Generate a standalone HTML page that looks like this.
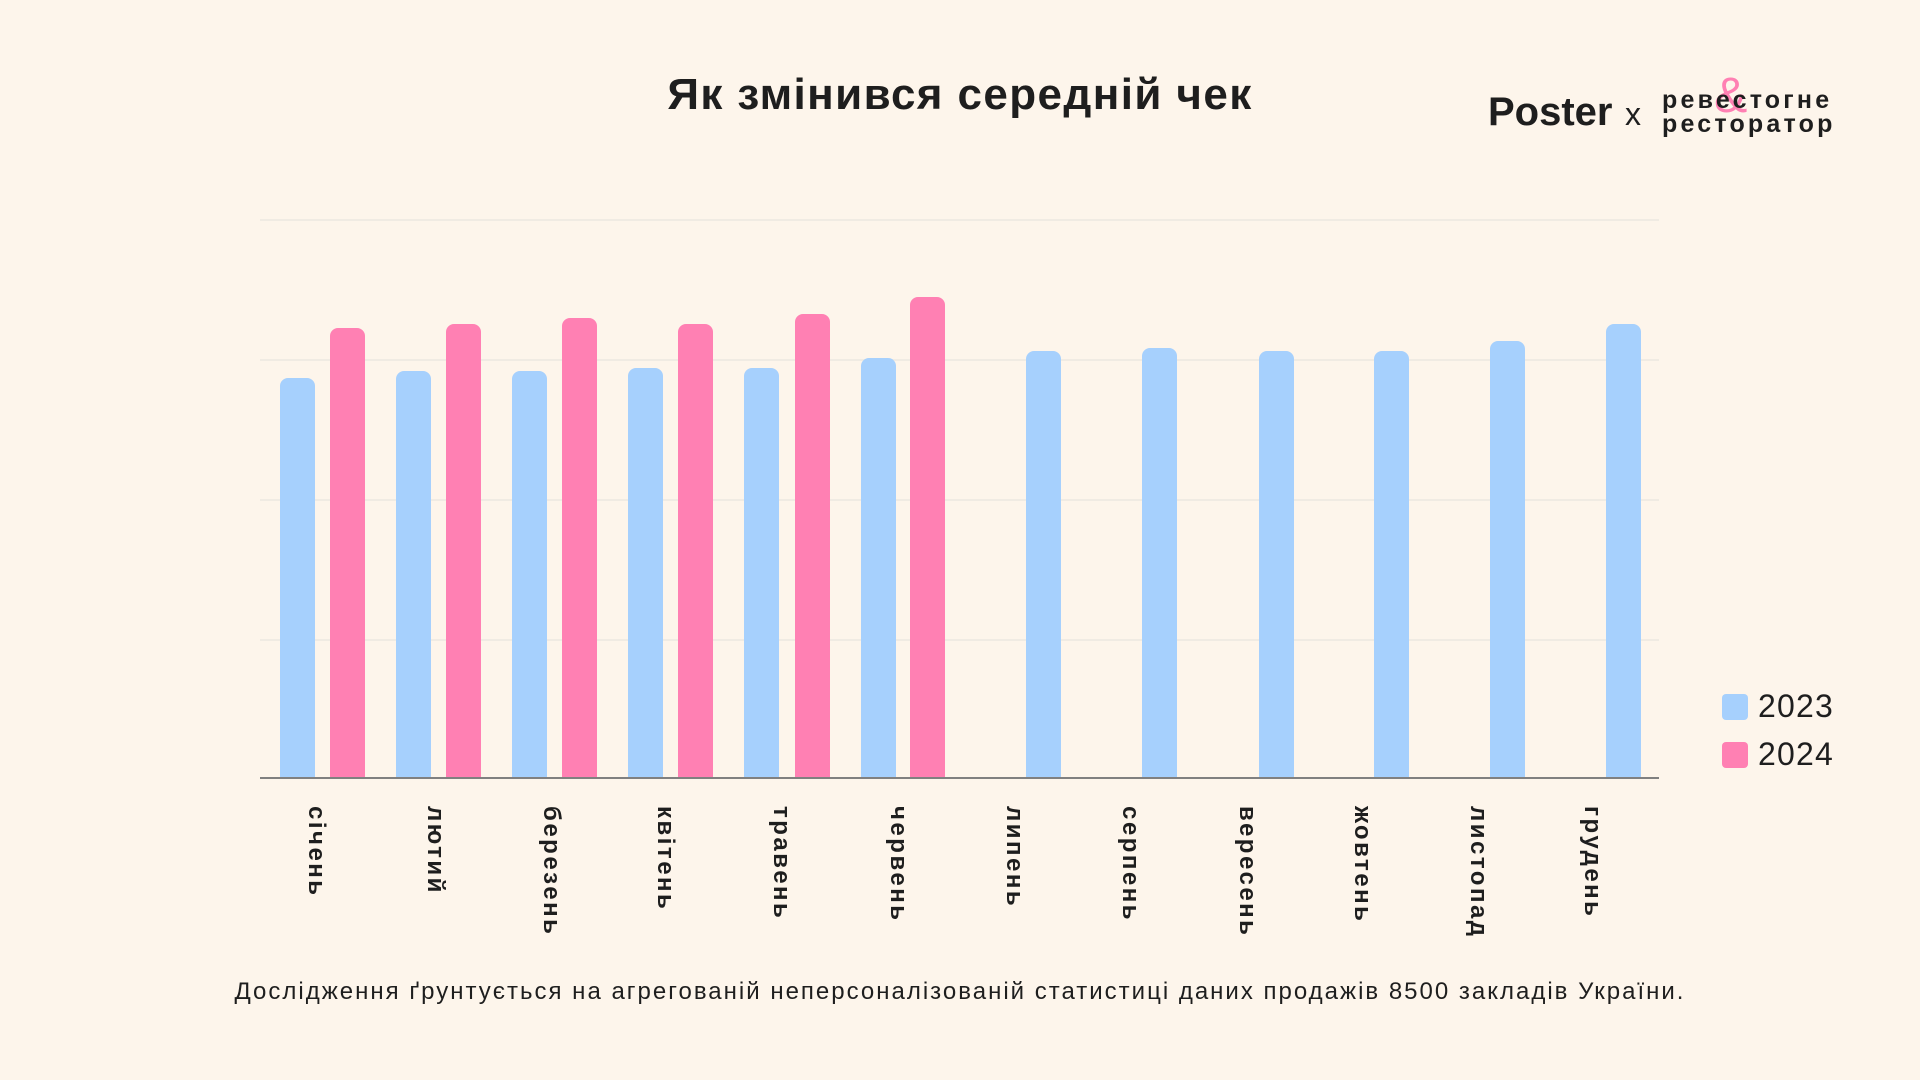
<!DOCTYPE html>
<html><head><meta charset="utf-8"><style>
body{margin:0;width:1920px;height:1080px;background:#fdf5eb;position:relative;overflow:hidden;font-family:"Liberation Sans","DejaVu Sans",sans-serif;color:#1e1e1e}
.a{position:absolute}
.g{position:absolute;left:260px;width:1399px;height:2px;background:#f0ebe3}
.b{position:absolute;width:35px;border-radius:8px 8px 0 0;background:#a6d0fd}
.p{background:#ff80b3}
.l{position:absolute;top:806px;font-weight:bold;font-size:24px;letter-spacing:2.5px;writing-mode:vertical-rl;transform:translateX(-50%);white-space:nowrap}
</style></head><body>
<div class="a" style="left:0;width:1920px;top:70px;text-align:center;font-size:44px;font-weight:bold;letter-spacing:1.4px">Як змінився середній чек</div>
<div class="a" style="left:1488px;top:90px;font-size:40px;font-weight:bold">Poster</div>
<div class="a" style="left:1625px;top:96px;font-size:32px">x</div>
<div class="a" style="left:1714px;top:70px;font-size:50px;color:#ff80b3;line-height:50px">&amp;</div>
<div class="a" style="left:1662px;top:88px;font-size:25px;font-weight:bold;line-height:24px;letter-spacing:3.2px">ревестогне<br>ресторатор</div>
<div class="g" style="top:219px"></div><div class="g" style="top:359px"></div><div class="g" style="top:499px"></div><div class="g" style="top:639px"></div>
<div class="b" style="left:280px;top:378px;height:400px"></div>
<div class="b p" style="left:330px;top:328px;height:450px"></div>
<div class="b" style="left:396px;top:371px;height:407px"></div>
<div class="b p" style="left:446px;top:324px;height:454px"></div>
<div class="b" style="left:512px;top:371px;height:407px"></div>
<div class="b p" style="left:562px;top:318px;height:460px"></div>
<div class="b" style="left:628px;top:368px;height:410px"></div>
<div class="b p" style="left:678px;top:324px;height:454px"></div>
<div class="b" style="left:744px;top:368px;height:410px"></div>
<div class="b p" style="left:795px;top:314px;height:464px"></div>
<div class="b" style="left:861px;top:358px;height:420px"></div>
<div class="b p" style="left:910px;top:297px;height:481px"></div>
<div class="b" style="left:1026px;top:351px;height:427px"></div>
<div class="b" style="left:1142px;top:348px;height:430px"></div>
<div class="b" style="left:1259px;top:351px;height:427px"></div>
<div class="b" style="left:1374px;top:351px;height:427px"></div>
<div class="b" style="left:1490px;top:341px;height:437px"></div>
<div class="b" style="left:1606px;top:324px;height:454px"></div>
<div class="a" style="left:260px;top:777px;width:1399px;height:2px;background:#808080"></div>
<div class="l" style="left:316px">січень</div>
<div class="l" style="left:435px">лютий</div>
<div class="l" style="left:551px">березень</div>
<div class="l" style="left:665px">квітень</div>
<div class="l" style="left:781px">травень</div>
<div class="l" style="left:898px">червень</div>
<div class="l" style="left:1014px">липень</div>
<div class="l" style="left:1130px">серпень</div>
<div class="l" style="left:1247px">вересень</div>
<div class="l" style="left:1362px">жовтень</div>
<div class="l" style="left:1478px">листопад</div>
<div class="l" style="left:1592px">грудень</div>
<div class="a" style="left:1722px;top:694px;width:26px;height:26px;border-radius:4px;background:#a6d0fd"></div>
<div class="a" style="left:1722px;top:742px;width:26px;height:26px;border-radius:4px;background:#ff80b3"></div>
<div class="a" style="left:1758px;top:688px;font-size:32px;letter-spacing:1.2px">2023</div>
<div class="a" style="left:1758px;top:736px;font-size:32px;letter-spacing:1.2px">2024</div>
<div class="a" style="left:0;width:1920px;top:978px;text-align:center;font-size:24px;letter-spacing:2px">Дослідження ґрунтується на агрегованій неперсоналізованій статистиці даних продажів 8500 закладів України.</div>
</body></html>
